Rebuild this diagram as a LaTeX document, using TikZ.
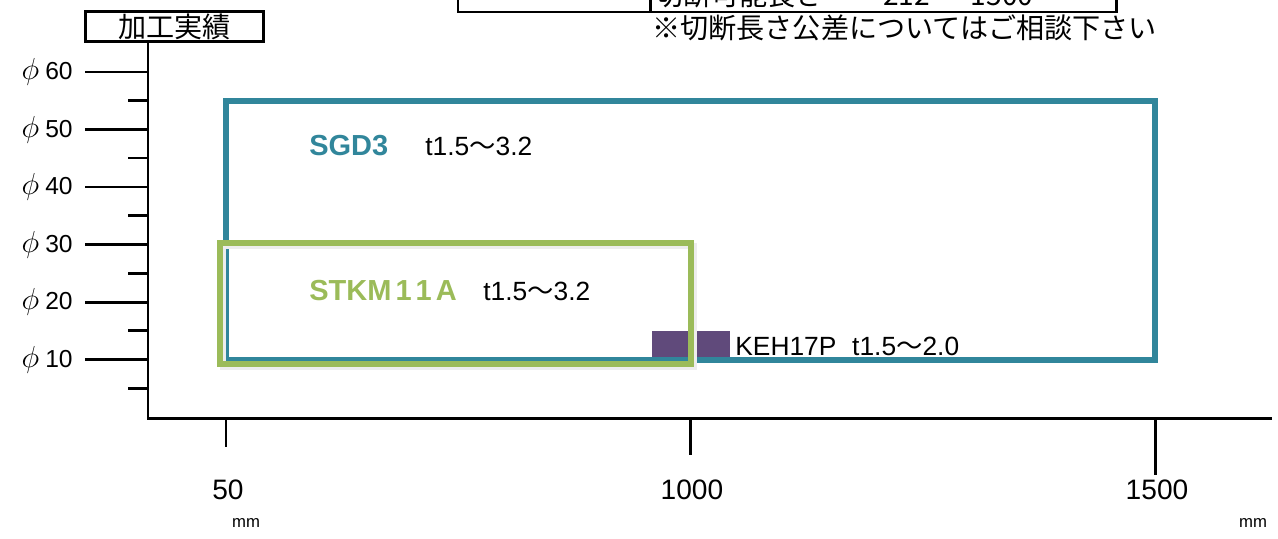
\documentclass[tikz,border=0pt]{standalone}
\usepackage{fontspec}
\setmainfont{Liberation Sans}
\newfontfamily\jp{Noto Sans CJK JP}
\usetikzlibrary{positioning}
\definecolor{sgdteal}{HTML}{31869B}
\definecolor{stkmgreen}{HTML}{9BBB59}
\definecolor{kehpurple}{HTML}{604A7B}
\newcommand{\wave}{{\jp ～}}
\newcommand{\dia}{{\fontsize{18}{20}\selectfont$\phi$}\hspace{0.12cm}}

\begin{document}
\begin{tikzpicture}[
  x=0.02cm, y=-0.02cm,
  every node/.style={inner sep=0pt},
  axis/.style={line width=1.7pt},
  rangebox/.style={line width=2.9pt},
  ylab/.style={anchor=east, font=\fontsize{14}{16}\selectfont},
  xlab/.style={anchor=base, font=\fontsize{16}{18}\selectfont},
  unit/.style={anchor=base, font=\fontsize{9.5}{11}\selectfont},
  spec/.style={anchor=base west, font=\fontsize{15}{17}\selectfont},
  grade/.style={anchor=base west, font=\bfseries\fontsize{16.5}{19}\selectfont},
  jptext/.style={font=\jp\fontsize{16}{19}\selectfont}
]

\clip (0,0) rectangle (1278,538);

% Table above (cut off)
\coordinate (tabNW) at (458,-40);
\coordinate (tabSE) at (1116,12);
\coordinate (tabsep) at (650,-40);
\draw[axis] (tabNW) rectangle (tabSE);
\draw[axis] (tabsep) -- (tabsep |- tabSE);
\node[jptext, anchor=base west] (cutlen) at (655,5) {切断可能長さ};
\node[jptext, anchor=base west] (cutrange) at (883,5) {212 ～ 1500};
\node[jptext, anchor=west] (note) at (652,28) {※切断長さ公差についてはご相談下さい};

% Title box
\node[draw, line width=1.7pt, minimum width=3.56cm, minimum height=0.6cm,
      jptext] (title) at (174.5,26.5) {加工実績};

% Axes
\coordinate (origin) at (148,418);
\coordinate (xend) at (1272,418);
\draw[axis] (title.south -| origin) -- (origin) -- (xend);

% y ticks
\foreach \d/\y in {60/72,50/129.5,40/187,30/244.5,20/302,10/359.5} {
  \draw[axis] (85,\y) -- (148,\y);
  \node[ylab] (dia\d) at (73,\y) {\dia\d};
}
\foreach \y in {100.5,158,215.5,273,330.5,388}
  \draw[axis] (128,\y) -- (148,\y);

% x ticks
\foreach \m/\x/\l in {50/226/447,1000/690/455,1500/1155/475} {
  \draw[axis] (\x,418) -- (\x,\l);
  \node[xlab] (len\m) at (\x+2,499) {\m};
}
\node[unit] (mmleft) at (246,527) {mm};
\node[unit] (mmright) at (1253,527) {mm};

% Ranges
\draw[rangebox, sgdteal] (226,101) rectangle (1155,360);
\fill[kehpurple] (652,331) rectangle (730,357);
\draw[rangebox, black!7] (223,246) rectangle (694,367);
\draw[rangebox, stkmgreen] (220,243) rectangle (691,364);

% Labels
\node[grade, text=sgdteal] (sgd) at (309,155) {SGD3};
\node[spec] (sgdt) at (425,155) {t1.5\wave3.2};
\node[grade, text=stkmgreen] (stkm) at (309,300)
  {STKM\hspace{0.14em}1\hspace{0.14em}1\hspace{0.14em}A};
\node[spec] (stkmt) at (483,300) {t1.5\wave3.2};
\node[spec] (keh) at (735,355) {KEH17P\hspace{0.6em}t1.5\wave2.0};

\end{tikzpicture}
\end{document}
